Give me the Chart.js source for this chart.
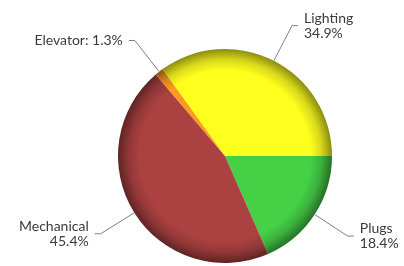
<!DOCTYPE html>
<html>
<head>
<meta charset="utf-8">
<script src="https://cdn.jsdelivr.net/npm/chart.js@4"></script>
<style>
  html, body { margin: 0; padding: 0; background: #fff; }
  #wrap { width: 404px; height: 266px; }
</style>
</head>
<body>
<div id="wrap"><canvas id="ChartPie"></canvas></div>
<script>
const categories = ['Plugs', 'Mechanical', 'Elevator', 'Lighting'];
const shares = [18.4, 45.4, 1.3, 34.9];
const colors = ['#45D046', '#AC4141', '#FF9A1C', '#FFFF1E'];

function shade(hex, f) {
  const n = parseInt(hex.slice(1), 16);
  const r = Math.round(((n >> 16) & 255) * f);
  const g = Math.round(((n >> 8) & 255) * f);
  const b = Math.round((n & 255) * f);
  return 'rgb(' + r + ',' + g + ',' + b + ')';
}

function sliceFill(context) {
  const chart = context.chart;
  const area = chart.chartArea;
  const base = colors[context.dataIndex];
  if (!area) return base;
  const cx = (area.left + area.right) / 2;
  const cy = (area.top + area.bottom) / 2;
  const r = Math.min(area.right - area.left, area.bottom - area.top) / 2;
  const g = chart.ctx.createRadialGradient(cx, cy, 0, cx, cy, r);
  g.addColorStop(0, base);
  g.addColorStop(0.8, base);
  g.addColorStop(0.9, shade(base, 0.85));
  g.addColorStop(1, shade(base, 0.55));
  return g;
}

const leaderLabels = {
  id: 'leaderLabels',
  afterDatasetsDraw(chart) {
    const ctx = chart.ctx;
    const meta = chart.getDatasetMeta(0);
    ctx.save();
    ctx.font = '14px Lato';
    ctx.fillStyle = '#3a3a3a';
    ctx.strokeStyle = '#808080';
    ctx.lineWidth = 1;
    meta.data.forEach((arc, i) => {
      const p = arc.getProps(['x', 'y', 'startAngle', 'endAngle', 'outerRadius'], true);
      const mid = (p.startAngle + p.endAngle) / 2;
      const cos = Math.cos(mid), sin = Math.sin(mid);
      const x0 = p.x + cos * p.outerRadius, y0 = p.y + sin * p.outerRadius;
      const x1 = p.x + cos * p.outerRadius * 1.37, y1 = p.y + sin * p.outerRadius * 1.37;
      const dir = cos >= 0 ? 1 : -1;
      const x2 = x1 + dir * 6;
      ctx.beginPath();
      ctx.moveTo(x0, y0);
      ctx.lineTo(x1, y1);
      ctx.lineTo(x2, y1);
      ctx.stroke();
      const pct = shares[i].toFixed(1) + '%';
      const lines = shares[i] < 5 ? [categories[i] + ': ' + pct] : [categories[i], pct];
      ctx.textAlign = dir > 0 ? 'left' : 'right';
      ctx.textBaseline = 'middle';
      const lh = 15;
      const top = y1 - (lines.length - 1) * lh / 2;
      lines.forEach((t, k) => ctx.fillText(t, x2 + dir * 6, top + k * lh));
    });
    ctx.restore();
  }
};

new Chart(document.getElementById('ChartPie').getContext('2d'), {
  type: 'pie',
  data: {
    labels: categories,
    datasets: [{
      data: shares,
      backgroundColor: sliceFill,
      borderWidth: 0
    }]
  },
  options: {
    responsive: true,
    maintainAspectRatio: false,
    animation: false,
    rotation: 90,
    layout: { padding: { top: 49, bottom: 3, left: 118, right: 72 } },
    plugins: {
      legend: { display: false },
      tooltip: { enabled: false }
    }
  },
  plugins: [leaderLabels]
});
</script>
</body>
</html>
